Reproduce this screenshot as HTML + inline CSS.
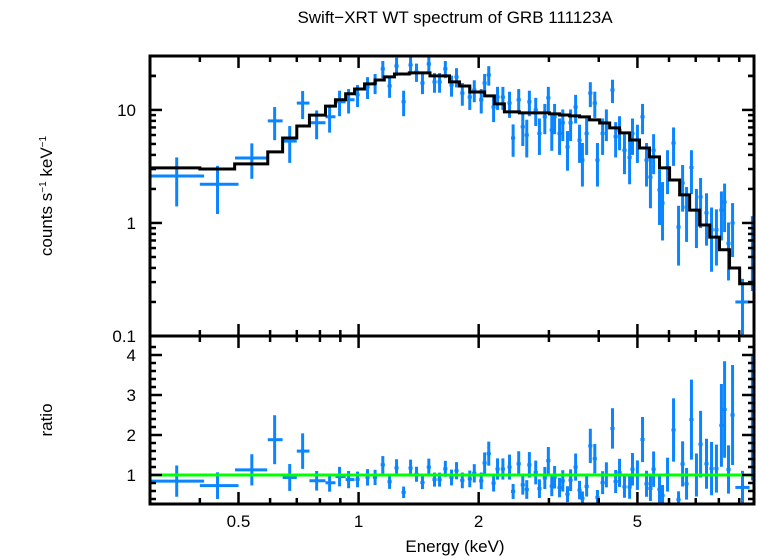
<!DOCTYPE html>
<html><head><meta charset="utf-8">
<style>
html,body{margin:0;padding:0;background:#fff;}
svg{display:block;font-family:"Liberation Sans",sans-serif;}
</style></head>
<body>
<svg id="chart" width="758" height="556" viewBox="0 0 758 556">
<defs>
<clipPath id="clipTop"><rect x="150" y="56" width="604" height="280"/></clipPath>
<clipPath id="clipBot"><rect x="150" y="336" width="604" height="168"/></clipPath>
</defs>
<text x="455" y="23" text-anchor="middle" font-size="17">Swift−XRT WT spectrum of GRB 111123A</text>
<text x="455" y="552" text-anchor="middle" font-size="17">Energy (keV)</text>
<text transform="translate(52,196) rotate(-90)" text-anchor="middle" font-size="17">counts s<tspan dy="-6" font-size="10">−1</tspan><tspan dy="6"> keV</tspan><tspan dy="-6" font-size="10">−1</tspan></text>
<text transform="translate(52,420) rotate(-90)" text-anchor="middle" font-size="17">ratio</text>
<g id="gTop" clip-path="url(#clipTop)"></g>
<g id="gBot" clip-path="url(#clipBot)"></g>
<g id="gAxes"></g>
</svg>
<script>
// model step edges (keV) and values (counts/s/keV)
const modelEdges = [0.299,0.40,0.489,0.592,0.645,0.70,0.753,0.826,0.875,0.928,0.977,1.035,1.10,1.16,1.23,1.34,1.51,1.69,1.79,1.90,2.07,2.19,2.32,2.53,2.68,2.84,3.01,3.19,3.38,3.58,3.79,4.02,4.26,4.51,4.78,5.06,5.36,5.68,6.02,6.38,6.76,7.16,7.59,8.03,8.51,9.02,9.55,9.8];
const modelValues = [3.07,3.0,3.33,4.25,5.65,7.2,9.0,10.8,12.3,13.9,15.3,17.0,18.4,19.6,20.8,21.3,20.0,17.7,16.3,14.4,13.3,11.3,9.6,9.41,9.41,9.41,9.22,9.03,8.85,8.67,8.16,7.67,6.93,6.26,5.42,4.61,3.84,3.07,2.40,1.77,1.30,0.96,0.75,0.58,0.40,0.29,0.29];
// data points
const energies = [0.35,0.443,0.54,0.616,0.672,0.724,0.785,0.846,0.896,0.944,0.994,1.053,1.10,1.15,1.196,1.245,1.297,1.35,1.397,1.446,1.50,1.55,1.596,1.65,1.71,1.76,1.82,1.90,1.95,2.03,2.07,2.12,2.18,2.23,2.30,2.39,2.44,2.52,2.58,2.64,2.68,2.78,2.84,2.93,2.99,3.05,3.10,3.19,3.25,3.34,3.40,3.50,3.58,3.64,3.73,3.81,3.91,3.97,4.09,4.18,4.33,4.41,4.51,4.64,4.78,4.86,5.00,5.15,5.27,5.39,5.49,5.68,5.78,5.95,6.16,6.34,6.49,6.64,6.83,7.03,7.20,7.45,7.67,7.89,8.12,8.27,8.46,8.66,9.17,9.71];
const rates = [2.6,2.2,3.76,8.0,5.3,11.5,7.7,8.7,11.8,12.3,13.6,16,17.3,23.1,16.3,24.5,11.8,25,21.7,17.3,25.5,17.7,17.7,23.1,16.6,19.6,14.1,13,15,12.3,17.3,20.4,10.6,13,13,11.5,5.65,12.3,7.1,6.0,11.8,10,6.2,8.7,12.8,6.65,8.7,6.2,7.7,4.7,7.7,10.6,5.4,3.6,6.2,14.1,11.5,3.6,6.2,7.7,15,5.8,6.6,4.4,3.8,6.2,5.4,8.7,3.6,2.55,4.4,1.96,1.5,3.1,5.1,0.92,2.26,1.38,3.1,1.3,1.7,1.23,0.87,0.87,1.3,1.53,0.66,1.0,0.2,0.7];
const rateErrs = [1.2,1.0,1.3,2.6,1.9,3.2,2.2,2.4,3,3,3,3.5,3.5,4,3.5,4.5,3,4.5,4,3.5,4.5,3.5,3.5,4,3.5,3.8,3.2,3,3.3,3,3.5,4,2.8,3,3,3,1.8,3,2.3,2.2,3,2.8,2.2,2.6,3.2,2.3,2.6,2.2,2.4,1.8,2.4,3,2,1.5,2.2,3.5,3,1.5,2.2,2.4,3.5,2,2.2,1.7,1.6,2.2,2,2.6,1.5,1.2,1.7,1.0,0.8,1.3,1.9,0.5,1.0,0.7,1.3,0.7,0.8,0.6,0.5,0.45,0.6,0.7,0.35,0.5,0.12,0.45];
const binLo = [0.30,0.40,0.49,0.592,0.645,0.70,0.753,0.826,0.875,0.928];
const binHi = [0.41,0.50,0.59,0.645,0.70,0.753,0.826,0.875,0.928,0.977];
const wideBinIdx = [88];
const wideBinLo = [8.8];
const wideBinHi = [9.55];
const topTicks = [10,1,0.1];
const topTickLabels = ["10","1","0.1"];
const ratioTicks = [1,2,3,4];
const ratioTickLabels = ["1","2","3","4"];
const xTicks = [0.5,1,2,5];
const xTickLabels = ["0.5","1","2","5"];

const X0=150,X1=754,XMIN=0.3,XMAX=9.8;
const TY0=56,TY1=336,YMIN=0.1,YMAX=30;
const BY0=336,BY1=504,RMIN=0.275,RMAX=4.475;
const NS="http://www.w3.org/2000/svg";
function xs(e){return X0+(Math.log10(e)-Math.log10(XMIN))/(Math.log10(XMAX)-Math.log10(XMIN))*(X1-X0);}
function ys(v){v=Math.max(v,1e-3);return TY1-(Math.log10(v)-Math.log10(YMIN))/(Math.log10(YMAX)-Math.log10(YMIN))*(TY1-TY0);}
function yr(r){return BY1-(r-RMIN)/(RMAX-RMIN)*(BY1-BY0);}
function mk(tag,attrs,parent){const el=document.createElementNS(NS,tag);for(const k in attrs)el.setAttribute(k,attrs[k]);parent.appendChild(el);return el;}
function modelAt(e){for(let i=0;i<modelValues.length;i++){if(e>=modelEdges[i]&&e<modelEdges[i+1])return modelValues[i];}return modelValues[modelValues.length-1];}
const gTop=document.getElementById('gTop'),gBot=document.getElementById('gBot'),gAx=document.getElementById('gAxes');
const BLUE="#0a84ff";
for(let i=0;i<energies.length;i++){
  const e=energies[i];
  let lo=i<binLo.length?binLo[i]:e*0.988, hi=i<binHi.length?binHi[i]:e*1.012;
  const w=wideBinIdx.indexOf(i); if(w>=0){lo=wideBinLo[w];hi=wideBinHi[w];}
  const r=rates[i],er=rateErrs[i];
  const g=mk('g',{},gTop);
  
  
  mk('line',{x1:xs(lo),x2:xs(hi),y1:ys(r),y2:ys(r),stroke:BLUE,'stroke-width':3},g);
  mk('line',{x1:xs(e),x2:xs(e),y1:ys(r+er),y2:ys(r-er),stroke:BLUE,'stroke-width':3},g);
  const m=modelAt(e),rr=r/m,re=er/m;
  const g2=mk('g',{},gBot);
  
  
  mk('line',{x1:xs(lo),x2:xs(hi),y1:yr(rr),y2:yr(rr),stroke:BLUE,'stroke-width':3},g2);
  mk('line',{x1:xs(e),x2:xs(e),y1:yr(rr+re),y2:yr(rr-re),stroke:BLUE,'stroke-width':3},g2);
}
let d='';
for(let i=0;i<modelValues.length;i++){
  const y=ys(modelValues[i]);
  d+=(i===0?'M':'L')+xs(modelEdges[i])+','+y+'L'+xs(modelEdges[i+1])+','+y;
}
const mp=mk('path',{d:d,fill:'none',stroke:'#000','stroke-width':3},gTop);


const gl=mk('line',{x1:X0,x2:X1,y1:yr(1),y2:yr(1),stroke:'#00ff00','stroke-width':3},gBot);


const f1=mk('rect',{x:X0,y:TY0,width:X1-X0,height:TY1-TY0,fill:'none',stroke:'#000','stroke-width':3},gAx);


const f2=mk('rect',{x:X0,y:BY0,width:X1-X0,height:BY1-BY0,fill:'none',stroke:'#000','stroke-width':3},gAx);


function tk(x1,y1,x2,y2){mk('line',{x1:x1,y1:y1,x2:x2,y2:y2,stroke:'#000','stroke-width':2.5},gAx);}
for(let dec=0.1;dec<=10;dec*=10){for(let k=1;k<=9;k++){const v=dec*k;if(v<YMIN||v>YMAX)continue;const y=ys(v);const L=k===1?12:6;tk(X0,y,X0+L,y);tk(X1,y,X1-L,y);}}
for(const v of [20,30]){const y=ys(v);if(y>=TY0){tk(X0,y,X0+6,y);tk(X1,y,X1-6,y);}}
topTicks.forEach((v,i)=>{const t=mk('text',{x:136,y:ys(v)+6,'text-anchor':'end','font-size':17},gAx);t.textContent=topTickLabels[i];

});
for(let r=0.4;r<=4.4;r+=0.2){const y=yr(r);const maj=Math.abs(r-Math.round(r))<0.01;const L=maj?12:6;tk(X0,y,X0+L,y);tk(X1,y,X1-L,y);}
ratioTicks.forEach((v,i)=>{const t=mk('text',{x:136,y:yr(v)+6,'text-anchor':'end','font-size':17},gAx);t.textContent=ratioTickLabels[i];

});
const minors=[0.3,0.4,0.6,0.7,0.8,0.9,3,4,6,7,8,9];
for(const e of minors){if(e<XMIN||e>XMAX)continue;const x=xs(e);tk(x,TY0,x,TY0+6);tk(x,TY1,x,TY1-6);tk(x,BY0,x,BY0+6);tk(x,BY1,x,BY1-6);}
xTicks.forEach((e,i)=>{const x=xs(e);tk(x,TY0,x,TY0+12);tk(x,TY1,x,TY1-12);tk(x,BY0,x,BY0+12);tk(x,BY1,x,BY1-12);
const t=mk('text',{x:x,y:527,'text-anchor':'middle','font-size':17},gAx);t.textContent=xTickLabels[i];

});
</script>
</body></html>
